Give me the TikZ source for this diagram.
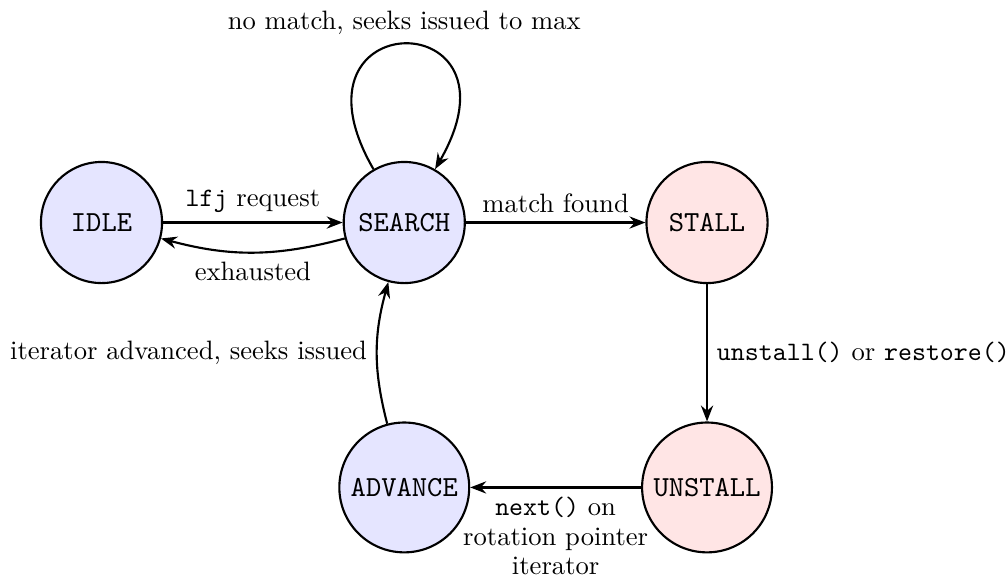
\documentclass[tikz,border=0pt]{standalone}
\usetikzlibrary{arrows.meta,positioning}
\begin{document}
\begin{tikzpicture}[
  >={Stealth[length=6pt,width=4.6pt,inset=2pt]},
  every edge/.style={draw,->,thick},
  state/.style={circle,draw,thick,minimum size=1.6cm,
    font=\fontsize{10.95}{13.6}\selectfont\ttfamily},
  idlestate/.style={state,fill=blue!10},
  hotstate/.style={state,fill=red!10}
]
\useasboundingbox (-1.341,-4.696) rectangle (11.95,2.94);

\node[idlestate] (idle)    at (0,0)    {IDLE};
\node[idlestate] (search)  at (4,0)    {SEARCH};
\node[hotstate]  (stall)   at (8,0)    {STALL};
\node[hotstate]  (unstall) at (8,-3.5) {UNSTALL};
\node[idlestate] (advance) at (4,-3.5) {ADVANCE};

\path
  (idle) edge node[above] {\texttt{lfj} request} (search)
  (search) edge[bend left=15] node[below] {exhausted} (idle)
  (search) edge[out=120,in=60,looseness=8,min distance=5mm]
      node[above] {no match, seeks issued to max} (search)
  (search) edge node[above] {match found} (stall)
  (stall) edge node[right] {\texttt{unstall()} or \texttt{restore()}} (unstall)
  (unstall) edge node[below,align=center]
      {\texttt{next()} on\\[-1pt]rotation pointer\\[-1pt]iterator} (advance)
  (advance) edge[bend left=15] node[left] {iterator advanced, seeks issued} (search);
\end{tikzpicture}
\end{document}
